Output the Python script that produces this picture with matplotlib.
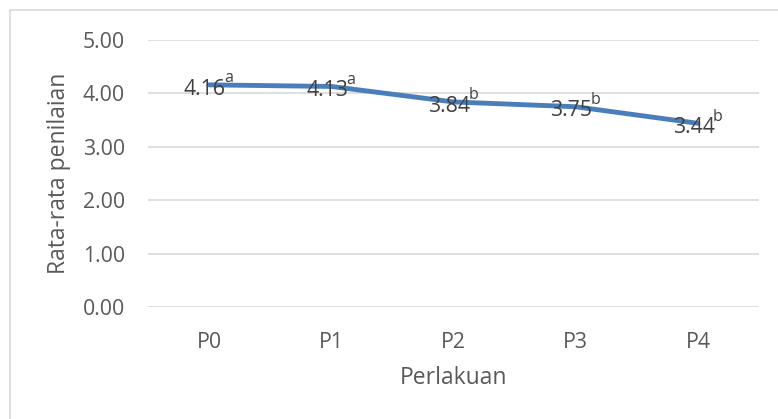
import matplotlib as mpl
mpl.use("Agg")
import matplotlib.pyplot as plt
from matplotlib.patches import Rectangle

# data
categories = ["P0", "P1", "P2", "P3", "P4"]
values = [4.16, 4.13, 3.84, 3.75, 3.44]
letters = ["a", "a", "b", "b", "b"]
yticks = [0, 1, 2, 3, 4, 5]

plt.rcParams['font.family'] = ['Open Sans', 'DejaVu Sans']
text_col = '#595959'
fs = 15.3
fs_title = 16.5

fig = plt.figure(figsize=(7.78, 4.19), dpi=100)
fig.patches.append(Rectangle((10/778, -0.1), 1.2, 1 - 10/419 + 0.1, transform=fig.transFigure,
                             fill=False, edgecolor='#D9D9D9', lw=1.2))
ax = fig.add_axes([148/778, 1 - 307/419, (759 - 148)/778, (307 - 40)/419])

x = range(len(categories))
ax.plot(x, values, color='#4A7EBB', lw=3.5, solid_capstyle='round', zorder=3)
# value label + superscript letter, whole thing centred on the point
for xi, v, l in zip(x, values, letters):
    ax.annotate("%.2f" % v, (xi, v), xytext=(12, -3), textcoords='offset points',
                ha='right', va='center', fontsize=fs, color='#404040', zorder=4)
    ax.annotate(l, (xi, v), xytext=(10.8, 2), textcoords='offset points',
                ha='left', va='baseline', fontsize=11.5, color='#404040', zorder=4)

ax.set_xlim(-0.5, len(categories) - 0.5)
ax.set_ylim(0, 5)
ax.set_yticks(yticks)
ax.set_yticklabels(["%.2f" % t for t in yticks])
ax.set_xticks(list(x))
ax.set_xticklabels(categories)
ax.grid(axis='y', color='#D9D9D9', lw=1.2)
ax.set_axisbelow(True)
for s in ax.spines.values():
    s.set_visible(False)
ax.tick_params(length=0, labelsize=fs, colors=text_col, pad=16.5)
ax.tick_params(axis='x', pad=18)
ax.set_xlabel("Perlakuan", fontsize=fs_title, color=text_col)
ax.set_ylabel("Rata-rata penilaian", fontsize=fs_title, color=text_col)
ax.xaxis.set_label_coords(0.5, -(378 - 307)/267, transform=ax.transAxes)
ax.yaxis.set_label_coords(-(148 - 59)/611, 0.5, transform=ax.transAxes)
ax.xaxis.label.set_va('center')
ax.yaxis.label.set_va('center')

fig.savefig("out.png", dpi=100)
